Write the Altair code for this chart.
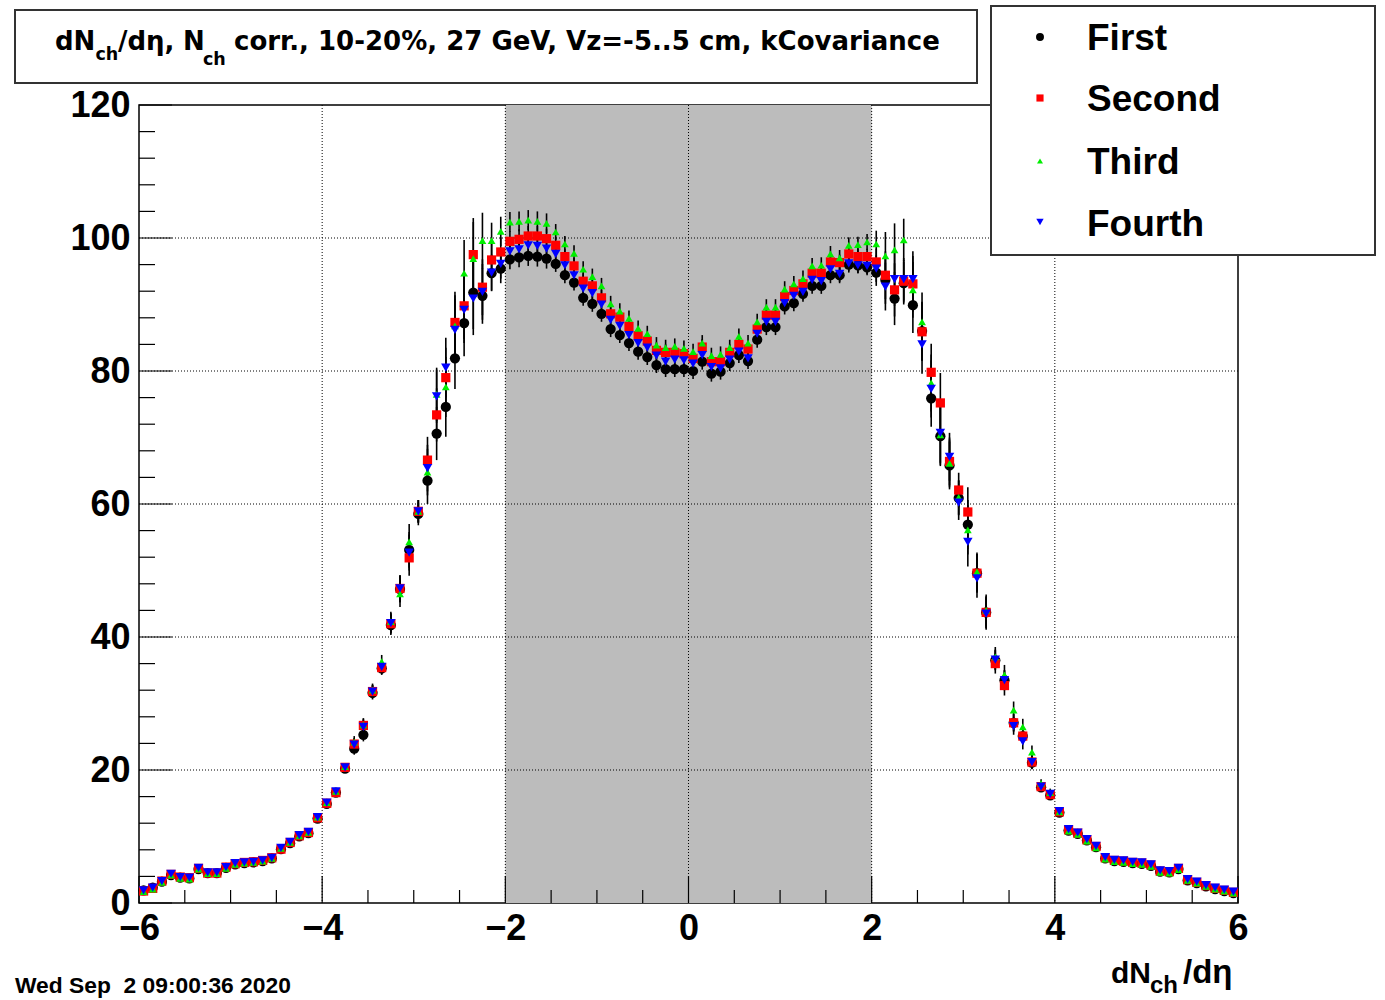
import altair as alt
import pandas as pd

# ---------------- data ----------------
bin_lo, bin_hi, n_bins = -6.0, 6.0, 120
eta = [round(bin_lo + (bin_hi - bin_lo) / n_bins * (i + 0.5), 3) for i in range(n_bins)]

first = [1.9, 2.3, 3.2, 4.2, 3.8, 3.7, 5.1, 4.5, 4.5, 5.3, 5.8, 6.0, 6.1, 6.3, 6.7, 8.1, 9.0, 10.0, 10.5, 12.7,
         14.9, 16.6, 20.2, 23.2, 25.3,
         31.6, 35.3, 41.8, 47.2, 53.1, 58.5, 63.5, 70.6, 74.6, 81.9, 87.2, 91.8, 91.3, 94.7, 95.4,
         96.8, 97.1, 97.3, 97.2, 96.9, 96.1, 94.4, 93.3, 91.0, 90.1, 88.6, 86.3, 85.4, 84.2, 82.9, 82.1, 80.9, 80.3, 80.3, 80.3,
         80.0, 81.4, 79.6, 79.9, 81.2, 82.4, 81.5, 84.7, 86.6, 86.6, 89.7, 90.2, 91.6, 92.8, 92.8, 94.4, 94.4, 96.0, 95.9, 95.6,
         94.8, 93.7, 90.9, 93.2, 89.9, 86.0, 75.9, 70.2, 65.8, 60.9, 56.9, 49.6, 43.7, 36.5, 33.5, 27.1, 25.1, 21.1, 17.4, 16.2,
         13.6, 10.9, 10.4, 9.4, 8.4, 6.7, 6.3, 6.2, 6.0, 5.9, 5.6, 4.7, 4.6, 5.1, 3.4, 3.0, 2.5, 2.1, 1.8, 1.5]

second = [1.8, 2.2, 3.3, 4.3, 3.9, 3.8, 5.2, 4.5, 4.5, 5.4, 5.9, 6.1, 6.2, 6.4, 6.8, 8.1, 9.1, 10.1, 10.6, 12.8,
          15.0, 16.6, 20.4, 23.9, 26.7,
          31.8, 35.4, 42.0, 47.3, 51.9, 58.9, 66.6, 73.4, 79.0, 87.3, 89.8, 97.5, 92.6, 96.7, 97.9,
          99.5, 99.8, 100.3, 100.3, 99.9, 98.9, 97.2, 95.8, 93.5, 92.8, 91.0, 88.6, 88.1, 86.7, 85.3, 84.5, 83.1, 82.8, 82.8, 82.6,
          81.9, 83.6, 81.4, 81.4, 82.8, 84.0, 83.3, 86.3, 88.4, 88.4, 91.2, 92.1, 93.1, 94.7, 94.7, 96.4, 96.3, 97.6, 97.2, 97.2,
          96.4, 94.4, 92.2, 93.5, 93.1, 85.9, 79.8, 75.2, 66.4, 62.1, 58.8, 49.6, 43.7, 36.0, 32.7, 27.1, 25.1, 21.2, 17.5, 16.3,
          13.7, 11.0, 10.5, 9.5, 8.5, 6.8, 6.4, 6.3, 6.1, 6.0, 5.7, 4.8, 4.7, 5.2, 3.5, 3.1, 2.6, 2.2, 1.9, 1.6]

third = [1.7, 2.1, 3.1, 4.2, 3.7, 3.6, 5.1, 4.4, 4.4, 5.2, 5.8, 6.0, 6.1, 6.3, 6.7, 8.2, 9.1, 10.1, 10.6, 12.9,
         15.1, 16.8, 20.5, 24.2, 26.8,
         32.0, 36.3, 42.3, 46.5, 54.3, 58.9, 64.8, 76.5, 77.6, 86.8, 94.7, 96.9, 99.6, 99.6, 101.0,
         102.4, 102.5, 102.7, 102.5, 102.2, 100.9, 99.1, 97.7, 95.3, 94.2, 92.8, 90.1, 89.0, 87.9, 86.4, 85.6, 83.9, 83.5, 83.7, 83.4,
         82.9, 84.2, 82.3, 82.5, 83.5, 85.2, 84.2, 87.4, 89.6, 89.6, 92.3, 93.1, 93.9, 95.8, 95.9, 97.6, 97.0, 98.9, 99.0, 99.4,
         99.1, 97.3, 98.2, 99.7, 92.2, 87.4, 78.2, 70.4, 66.1, 61.0, 56.1, 49.8, 44.0, 37.0, 34.3, 29.0, 26.5, 22.7, 18.0, 16.6,
         13.7, 10.8, 10.3, 9.3, 8.3, 6.6, 6.2, 6.1, 5.9, 5.8, 5.5, 4.6, 4.5, 5.0, 3.4, 3.0, 2.5, 2.1, 1.8, 1.5]

fourth = [1.9, 2.3, 3.3, 4.4, 3.9, 3.8, 5.3, 4.6, 4.6, 5.4, 6.0, 6.1, 6.2, 6.4, 6.8, 8.3, 9.2, 10.2, 10.7, 12.9,
          15.1, 16.8, 20.4, 23.8, 26.5,
          31.8, 35.5, 42.1, 47.3, 52.7, 58.9, 65.4, 76.2, 80.5, 86.2, 89.2, 90.9, 91.9, 94.8, 96.1,
          98.0, 98.3, 98.9, 98.8, 98.4, 97.6, 95.9, 94.4, 92.4, 91.7, 90.0, 87.7, 86.8, 85.4, 84.2, 83.5, 82.3, 81.4, 81.7, 81.6,
          81.1, 82.4, 80.6, 80.4, 81.7, 82.9, 81.9, 85.6, 87.4, 87.4, 90.2, 91.3, 91.9, 93.7, 93.5, 95.3, 94.6, 96.2, 95.9, 95.8,
          95.4, 92.7, 93.8, 93.8, 93.8, 84.0, 77.3, 70.7, 67.1, 60.2, 54.3, 48.8, 43.5, 36.6, 33.5, 26.6, 24.3, 21.2, 17.5, 16.4,
          13.8, 11.1, 10.6, 9.6, 8.6, 6.9, 6.5, 6.4, 6.2, 6.1, 5.8, 4.9, 4.8, 5.3, 3.6, 3.2, 2.7, 2.3, 2.0, 1.7]

errors = [0.4] * 19 + [0.5] * 4 + [0.9, 1.0,
          1.0, 1.0, 1.5, 2.0, 2.7, 1.7, 3.5, 4.0, 4.5, 4.6, 5.0, 5.5, 4.2, 2.7, 2.2,
          1.5, 1.5, 1.5, 1.5, 1.5] + [1.2] * 35 + [
          2.0, 3.6, 4.0, 3.2, 4.2, 4.4, 4.3, 4.5, 3.6, 2.6, 3.7, 2.9, 2.4, 1.5, 1.5, 1.3, 1.2, 1.0, 0.6, 0.6] + [0.4] * 20

series_names = ["First", "Second", "Third", "Fourth"]
series_colors = ["#000000", "#ff0000", "#00ee00", "#0000ff"]
series_shapes = ["circle", "square", "triangle-up", "triangle-down"]
series_sizes = [105, 85, 60, 90]

shade_range = [-2.0, 2.0]
x_labels = [-6, -4, -2, 0, 2, 4, 6]
y_labels = [0, 20, 40, 60, 80, 100, 120]
x_grid = [-4, -2, 0, 2, 4]
y_grid = [20, 40, 60, 80, 100]
x_minor = [v / 2 for v in range(-12, 13) if v % 4 != 0]
y_minor = [v for v in range(0, 121, 4) if v % 20 != 0]

# ---------------- layout ----------------
W, H = 1099, 798
PL, PT = 139, 105
LFONT = "Liberation Sans"
TFONT = "DejaVu Sans"

rows = []
for name, vals in zip(series_names, [first, second, third, fourth]):
    for x, v, e in zip(eta, vals, errors):
        rows.append({"series": name, "eta": x, "v": v, "lo": v - e, "hi": v + e})
df = pd.DataFrame(rows)

xscale = alt.Scale(domain=[-6, 6], nice=False, zero=False)
yscale = alt.Scale(domain=[0, 120], nice=False, zero=False)
xaxis = alt.Axis(values=x_labels, format="d", title=None, grid=False, ticks=False, tickSize=0,
                 domain=False, labelFont=LFONT, labelFontWeight="bold", labelFontSize=36,
                 labelColor="black", labelPadding=8, labelFlush=False, labelOverlap=False)
yaxis = alt.Axis(values=y_labels, format="d", title=None, grid=False, ticks=False, tickSize=0,
                 domain=False, labelFont=LFONT, labelFontWeight="bold", labelFontSize=36,
                 labelColor="black", labelPadding=9, labelOverlap=False)


def X(field):
    return alt.X(field, type="quantitative", scale=xscale, axis=xaxis)


def Y(field):
    return alt.Y(field, type="quantitative", scale=yscale, axis=yaxis)


one = pd.DataFrame({"k": [0]})
layers = []

# shaded band
layers.append(alt.Chart(pd.DataFrame({"a": [shade_range[0]], "b": [shade_range[1]]}))
              .mark_rect(color="#bcbcbc", opacity=1)
              .encode(x=X("a"), x2="b", y=alt.value(0), y2=alt.value(H)))

# dotted grid
layers.append(alt.Chart(pd.DataFrame({"g": y_grid})).mark_rule(color="black", strokeDash=[1, 2], strokeWidth=1)
              .encode(y=Y("g"), x=alt.value(0), x2=alt.value(W)))
layers.append(alt.Chart(pd.DataFrame({"g": x_grid})).mark_rule(color="black", strokeDash=[1, 2], strokeWidth=1)
              .encode(x=X("g"), y=alt.value(0), y2=alt.value(H)))

# inward ticks
layers.append(alt.Chart(pd.DataFrame({"t": y_labels})).mark_rule(color="black", strokeWidth=1.2)
              .encode(y=Y("t"), x=alt.value(0), x2=alt.value(33)))
layers.append(alt.Chart(pd.DataFrame({"t": y_minor})).mark_rule(color="black", strokeWidth=1.2)
              .encode(y=Y("t"), x=alt.value(0), x2=alt.value(16)))
layers.append(alt.Chart(pd.DataFrame({"t": x_labels})).mark_rule(color="black", strokeWidth=1.2)
              .encode(x=X("t"), y=alt.value(H), y2=alt.value(H - 27)))
layers.append(alt.Chart(pd.DataFrame({"t": x_minor})).mark_rule(color="black", strokeWidth=1.2)
              .encode(x=X("t"), y=alt.value(H), y2=alt.value(H - 13)))

# error bars
layers.append(alt.Chart(df).mark_rule(color="black", strokeWidth=1.6)
              .encode(x=X("eta"), y=Y("lo"), y2="hi"))

# markers
for name, col, shp, sz in zip(series_names, series_colors, series_shapes, series_sizes):
    layers.append(alt.Chart(df).transform_filter(alt.datum.series == name)
                  .mark_point(shape=shp, filled=True, color=col, size=sz, opacity=1, strokeWidth=0)
                  .encode(x=X("eta"), y=Y("v")))

# title box
layers.append(alt.Chart(one).mark_rect(fill="white", stroke="#333333", strokeWidth=2)
              .encode(x=alt.value(15 - PL), x2=alt.value(977 - PL), y=alt.value(10 - PT), y2=alt.value(83 - PT)))


def txt(s, x, y, size, font=LFONT, align="left"):
    return (alt.Chart(one).mark_text(text=s, font=font, fontWeight="bold", fontSize=size, align=align,
                                     baseline="alphabetic", color="black")
            .encode(x=alt.value(x - PL), y=alt.value(y - PT)))


title_base = 50
layers.append(txt("dN", 55, title_base, 26, TFONT))
layers.append(txt("ch", 95.5, 60, 17.5, TFONT))
layers.append(txt("/d\u03b7,", 118, title_base, 26, TFONT))
layers.append(txt("N", 183, title_base, 26, TFONT))
layers.append(txt("ch", 203, 65, 17.5, TFONT))
layers.append(txt("corr., 10-20%, 27 GeV, Vz=-5..5 cm, kCovariance", 234, title_base, 26, TFONT))

# legend box
layers.append(alt.Chart(one).mark_rect(fill="white", stroke="#333333", strokeWidth=2)
              .encode(x=alt.value(991 - PL), x2=alt.value(1375 - PL), y=alt.value(6 - PT), y2=alt.value(255 - PT)))
leg_marker_y = [37, 98, 161, 222]
leg_text_y = [50, 111, 174, 236]
for name, col, shp, sz, my, ty in zip(series_names, series_colors, series_shapes, series_sizes,
                                      leg_marker_y, leg_text_y):
    layers.append(alt.Chart(one).mark_point(shape=shp, filled=True, color=col, size=sz * 0.6, opacity=1, strokeWidth=0)
                  .encode(x=alt.value(1040 - PL), y=alt.value(my - PT)))
    layers.append(txt(name, 1087, ty, 37))

# x-axis title
layers.append(txt("dN", 1111, 983, 30))
layers.append(txt("ch", 1150, 993, 24))
layers.append(txt("/d\u03b7", 1183, 983, 33))

# date stamp
layers.append(txt("Wed Sep \u00a02 09:00:36 2020", 15, 993, 22.8))

chart = (alt.layer(*layers)
         .properties(width=W, height=H, background="white",
                     padding={"left": PL, "top": PT, "right": 1385 - PL - W, "bottom": 1000 - PT - H},
                     autosize=alt.AutoSizeParams(type="none"))
         .configure_view(stroke="black", strokeWidth=1.5))

chart.save("out.html", embed_options={"renderer": "svg", "actions": False})
